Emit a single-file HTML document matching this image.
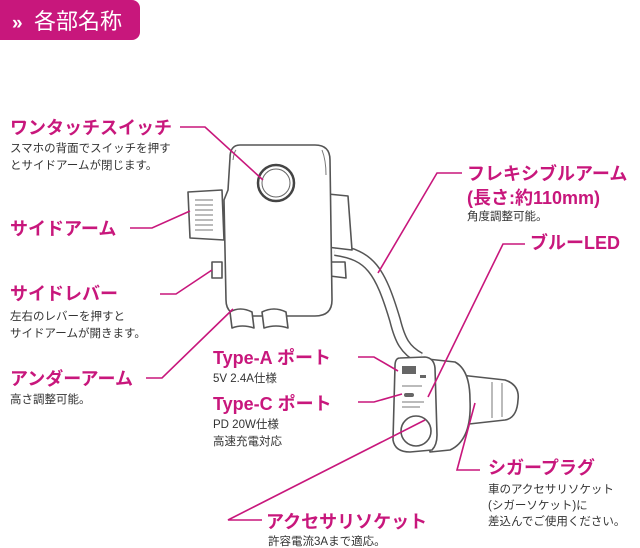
<!DOCTYPE html>
<html><head><meta charset="utf-8"><style>
html,body{margin:0;padding:0;background:#fff;}
svg{display:block;}
text{font-family:"Liberation Sans","Noto Sans CJK JP",sans-serif;}
.h{fill:#c8177c;font-weight:bold;font-size:18px;}
.s{fill:#333;font-size:11.5px;}
.l{stroke:#c8177c;stroke-width:1.6;fill:none;}
.d{stroke:#555;stroke-width:1.6;fill:#fff;stroke-linejoin:round;}
.t{stroke:#777;stroke-width:1;fill:none;}
</style></head><body>
<svg width="640" height="548" viewBox="0 0 640 548" xmlns="http://www.w3.org/2000/svg">
<path d="M0 0H132a8 8 0 0 1 8 8V32a8 8 0 0 1-8 8H0Z" fill="#c8177c"/>
<text x="12" y="29" fill="#fff" font-size="19" font-weight="bold">»</text>
<text x="34" y="29" fill="#fff" font-size="22">各部名称</text>

<!-- gooseneck -->
<path d="M335 250 C 370 255, 380 270, 395 320 C 400 340, 405 350, 420 358" stroke="#555" stroke-width="12" fill="none"/>
<path d="M335 250 C 370 255, 380 270, 395 320 C 400 340, 405 350, 420 358" stroke="#fff" stroke-width="9" fill="none"/>
<!-- charger -->
<path class="d" d="M460 375 L505 380 Q520 385 518 400 Q517 418 505 420 L460 425Z"/>
<path class="t" d="M492 382 l0 36 M502 383 l0 34"/>
<path class="d" d="M418 358 L455 362 Q470 370 470 400 Q472 440 450 450 L430 452 Z"/>
<path class="d" d="M400 358 Q395 358 395 366 L393 440 Q395 452 410 452 L432 450 Q437 445 437 435 L435 368 Q434 358 425 357Z"/>
<circle class="d" cx="416" cy="431" r="15"/>
<rect x="402" y="366" width="14" height="8" fill="#666"/>
<rect x="420" y="375" width="6" height="3" fill="#666"/>
<rect x="404" y="393" width="10" height="4" rx="2" fill="#666"/>
<path class="t" d="M402 386h20M402 402h22M402 407h18"/>

<!-- holder -->
<path class="d" d="M308 192 L348 196 L352 250 L310 245Z"/>
<path class="d" d="M330 262 L345 262 L346 278 L330 276Z"/>
<path class="d" d="M188 192 L222 190 L224 240 L190 238Z"/>
<path class="t" d="M195 200h18M195 205h18M195 210h18M195 215h18M195 220h18M195 225h18M195 230h18"/>
<path class="d" d="M212 262 L222 262 L222 278 L212 278Z"/>
<path class="d" d="M240 145 Q230 145 230 158 L228 190 L224 200 L226 300 Q226 316 245 316 L315 316 Q332 316 332 300 L330 160 Q330 145 315 145Z"/>
<path class="t" d="M236 150 Q234 152 233 160 M322 150 Q326 160 326 175"/>
<circle cx="276" cy="183" r="18" fill="#fff" stroke="#444" stroke-width="2.5"/>
<circle cx="276" cy="183" r="14" fill="#fff" stroke="#666" stroke-width="1"/>
<path class="d" d="M230 312 Q240 306 252 312 L254 328 Q242 324 232 328Z"/>
<path class="d" d="M262 312 Q274 306 286 312 L288 328 Q276 324 264 328Z"/>

<!-- leader lines -->
<polyline class="l" points="180,127 205,127 263,180"/>
<polyline class="l" points="130,228 152,228 190,211"/>
<polyline class="l" points="160,294 176,294 212,270"/>
<polyline class="l" points="146,378 162,378 233,309"/>
<polyline class="l" points="358,357 374,357 398,371"/>
<polyline class="l" points="358,402 374,402 402,394"/>
<polyline class="l" points="462,173 437,173 378,273"/>
<polyline class="l" points="525,244 503,244 428,397"/>
<polyline class="l" points="480,470 457,470 475,403"/>
<polyline class="l" points="262,520 228,520 425,420"/>

<!-- labels -->
<text class="h" x="10" y="134">ワンタッチスイッチ</text>
<text class="s" x="10" y="152">スマホの背面でスイッチを押す</text>
<text class="s" x="10" y="169">とサイドアームが閉じます。</text>
<text class="h" x="10" y="235">サイドアーム</text>
<text class="h" x="10" y="300">サイドレバー</text>
<text class="s" x="10" y="320">左右のレバーを押すと</text>
<text class="s" x="10" y="337">サイドアームが開きます。</text>
<text class="h" x="10" y="385">アンダーアーム</text>
<text class="s" x="10" y="403">高さ調整可能。</text>
<text class="h" x="213" y="364">Type-A ポート</text>
<text class="s" x="213" y="382">5V 2.4A仕様</text>
<text class="h" x="213" y="410">Type-C ポート</text>
<text class="s" x="213" y="428">PD 20W仕様</text>
<text class="s" x="213" y="445">高速充電対応</text>
<text class="h" x="467" y="180">フレキシブルアーム</text>
<text class="h" x="467" y="204">(長さ:約110mm)</text>
<text class="s" x="467" y="220">角度調整可能。</text>
<text class="h" x="530" y="249">ブルーLED</text>
<text class="h" x="488" y="474">シガープラグ</text>
<text class="s" x="488" y="493">車のアクセサリソケット</text>
<text class="s" x="488" y="509">(シガーソケット)に</text>
<text class="s" x="488" y="525">差込んでご使用ください。</text>
<text class="h" x="266" y="528">アクセサリソケット</text>
<text class="s" x="268" y="545">許容電流3Aまで適応。</text>
</svg>
</body></html>
